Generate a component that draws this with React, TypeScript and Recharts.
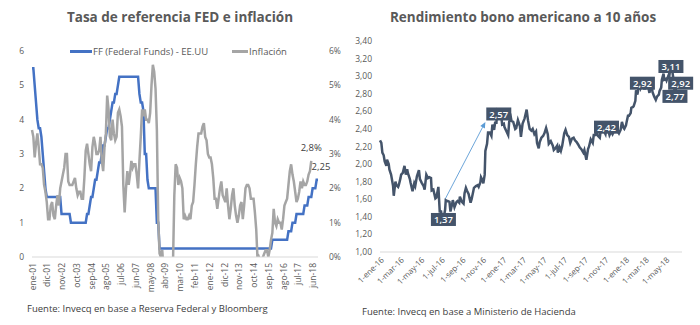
import { LineChart, Line, XAxis, YAxis, ReferenceLine, LabelList } from 'recharts'

const FONT = '"Open Sans", sans-serif'
const TEXT = '#595959'

// Tasa FF (límite superior, fin de mes), ene-01 .. oct-18
const fedFunds = [
  5.5, 5.5, 5, 4.5, 4, 3.75, 3.75, 3.5, 3, 2.5, 2, 1.75,
  1.75, 1.75, 1.75, 1.75, 1.75, 1.75, 1.75, 1.75, 1.75, 1.75, 1.25, 1.25,
  1.25, 1.25, 1.25, 1.25, 1.25, 1, 1, 1, 1, 1, 1, 1,
  1, 1, 1, 1, 1, 1.25, 1.25, 1.5, 1.75, 1.75, 2, 2.25,
  2.25, 2.5, 2.75, 2.75, 3, 3.25, 3.25, 3.5, 3.75, 3.75, 4, 4.25,
  4.5, 4.5, 4.75, 4.75, 5, 5.25, 5.25, 5.25, 5.25, 5.25, 5.25, 5.25,
  5.25, 5.25, 5.25, 5.25, 5.25, 5.25, 5.25, 5.25, 4.75, 4.5, 4.5, 4.25,
  3, 3, 2.25, 2, 2, 2, 2, 2, 2, 1, 1, 0.25,
  0.25, 0.25, 0.25, 0.25, 0.25, 0.25, 0.25, 0.25, 0.25, 0.25, 0.25, 0.25,
  0.25, 0.25, 0.25, 0.25, 0.25, 0.25, 0.25, 0.25, 0.25, 0.25, 0.25, 0.25,
  0.25, 0.25, 0.25, 0.25, 0.25, 0.25, 0.25, 0.25, 0.25, 0.25, 0.25, 0.25,
  0.25, 0.25, 0.25, 0.25, 0.25, 0.25, 0.25, 0.25, 0.25, 0.25, 0.25, 0.25,
  0.25, 0.25, 0.25, 0.25, 0.25, 0.25, 0.25, 0.25, 0.25, 0.25, 0.25, 0.25,
  0.25, 0.25, 0.25, 0.25, 0.25, 0.25, 0.25, 0.25, 0.25, 0.25, 0.25, 0.25,
  0.25, 0.25, 0.25, 0.25, 0.25, 0.25, 0.25, 0.25, 0.25, 0.25, 0.25, 0.5,
  0.5, 0.5, 0.5, 0.5, 0.5, 0.5, 0.5, 0.5, 0.5, 0.5, 0.5, 0.75,
  0.75, 0.75, 1, 1, 1, 1.25, 1.25, 1.25, 1.25, 1.25, 1.25, 1.5,
  1.5, 1.5, 1.75, 1.75, 1.75, 2, 2, 2, 2.25, 2.25,
]

// Inflación interanual EE.UU. (%), ene-01 .. may-18
const inflation = [
  3.7, 3.5, 2.9, 3.3, 3.6, 3.2, 2.7, 2.7, 2.6, 2.1, 1.9, 1.6,
  1.1, 1.1, 1.5, 1.6, 1.2, 1.1, 1.5, 1.8, 1.5, 2.0, 2.2, 2.4,
  2.6, 3.0, 3.0, 2.2, 2.1, 2.1, 2.1, 2.2, 2.3, 2.0, 1.8, 1.9,
  1.9, 1.7, 1.7, 2.3, 3.1, 3.3, 3.0, 2.7, 2.5, 3.2, 3.5, 3.3,
  3.0, 3.0, 3.1, 3.5, 2.8, 2.5, 3.2, 3.6, 4.7, 4.3, 3.5, 3.4,
  4.0, 3.6, 3.4, 3.5, 4.2, 4.3, 4.1, 3.8, 2.1, 1.3, 2.0, 2.5,
  2.1, 2.4, 2.8, 2.6, 2.7, 2.7, 2.4, 2.0, 2.8, 3.5, 4.3, 4.1,
  4.3, 4.0, 4.0, 3.9, 4.2, 5.0, 5.6, 5.4, 4.9, 3.7, 1.1, 0.1,
  0.0, 0.2, -0.4, -0.7, -1.3, -1.4, -2.1, -1.5, -1.3, -0.2, 1.8, 2.7,
  2.6, 2.1, 2.3, 2.2, 2.0, 1.1, 1.2, 1.1, 1.1, 1.2, 1.1, 1.5,
  1.6, 2.1, 2.7, 3.2, 3.6, 3.6, 3.6, 3.8, 3.9, 3.5, 3.4, 3.0,
  2.9, 2.9, 2.7, 2.3, 1.7, 1.7, 1.4, 1.7, 2.0, 2.2, 1.8, 1.7,
  1.6, 2.0, 1.5, 1.1, 1.4, 1.8, 2.0, 1.5, 1.2, 1.0, 1.2, 1.5,
  1.6, 1.1, 1.5, 2.0, 2.1, 2.1, 2.0, 1.7, 1.7, 1.7, 1.3, 0.8,
  -0.1, 0.0, -0.1, -0.2, 0.0, 0.1, 0.2, 0.2, 0.0, 0.2, 0.5, 0.7,
  1.4, 1.0, 0.9, 1.1, 1.0, 1.0, 0.8, 1.1, 1.5, 1.6, 1.7, 2.1,
  2.5, 2.7, 2.4, 2.2, 1.9, 1.6, 1.7, 1.9, 2.2, 2.0, 2.2, 2.1,
  2.1, 2.2, 2.4, 2.5, 2.8,
]

const fedTickMonths = [0, 11, 22, 33, 44, 55, 66, 77, 88, 99, 110, 121, 132, 143, 154, 165, 176, 187, 198, 209]
const fedTickLabels = ['ene-01', 'dic-01', 'nov-02', 'oct-03', 'sep-04', 'ago-05', 'jul-06', 'jun-07', 'may-08', 'abr-09',
  'mar-10', 'feb-11', 'ene-12', 'dic-12', 'nov-13', 'oct-14', 'sep-15', 'ago-16', 'jul-17', 'jun-18']
const fedYTicks = [0, 1, 2, 3, 4, 5, 6]

// Rendimiento bono del Tesoro a 10 años (%)
const bondYield: [string, number][] = [
  ['2016-01-01', 2.27], ['2016-01-05', 2.24], ['2016-01-08', 2.13], ['2016-01-12', 2.10], ['2016-01-15', 2.03],
  ['2016-01-20', 1.98], ['2016-01-22', 2.05], ['2016-01-27', 2.00], ['2016-01-29', 1.94], ['2016-02-03', 1.88],
  ['2016-02-05', 1.84], ['2016-02-09', 1.75], ['2016-02-11', 1.64], ['2016-02-16', 1.80], ['2016-02-19', 1.76],
  ['2016-02-24', 1.74], ['2016-02-26', 1.76], ['2016-03-02', 1.84], ['2016-03-04', 1.88], ['2016-03-09', 1.90],
  ['2016-03-14', 1.98], ['2016-03-18', 1.88], ['2016-03-22', 1.94], ['2016-03-24', 1.90], ['2016-03-30', 1.83],
  ['2016-04-01', 1.79], ['2016-04-07', 1.69], ['2016-04-12', 1.78], ['2016-04-15', 1.75], ['2016-04-20', 1.86],
  ['2016-04-26', 1.93], ['2016-04-29', 1.83], ['2016-05-04', 1.79], ['2016-05-10', 1.75], ['2016-05-13', 1.71],
  ['2016-05-18', 1.88], ['2016-05-23', 1.84], ['2016-05-27', 1.85], ['2016-06-01', 1.84], ['2016-06-03', 1.70],
  ['2016-06-08', 1.71], ['2016-06-14', 1.61], ['2016-06-17', 1.62], ['2016-06-23', 1.74], ['2016-06-27', 1.46],
  ['2016-07-01', 1.46], ['2016-07-05', 1.37], ['2016-07-08', 1.37], ['2016-07-13', 1.48], ['2016-07-15', 1.59],
  ['2016-07-20', 1.58], ['2016-07-26', 1.57], ['2016-07-29', 1.46], ['2016-08-03', 1.55], ['2016-08-05', 1.59],
  ['2016-08-10', 1.51], ['2016-08-16', 1.57], ['2016-08-19', 1.58], ['2016-08-24', 1.56], ['2016-08-26', 1.63],
  ['2016-09-01', 1.57], ['2016-09-06', 1.55], ['2016-09-09', 1.67], ['2016-09-13', 1.73], ['2016-09-16', 1.70],
  ['2016-09-21', 1.66], ['2016-09-27', 1.56], ['2016-09-30', 1.60], ['2016-10-05', 1.69], ['2016-10-07', 1.73],
  ['2016-10-13', 1.75], ['2016-10-18', 1.76], ['2016-10-21', 1.74], ['2016-10-26', 1.79], ['2016-10-28', 1.85],
  ['2016-11-02', 1.81], ['2016-11-04', 1.78], ['2016-11-08', 1.88], ['2016-11-10', 2.15], ['2016-11-15', 2.23],
  ['2016-11-18', 2.36], ['2016-11-23', 2.36], ['2016-11-28', 2.32], ['2016-12-01', 2.45], ['2016-12-06', 2.39],
  ['2016-12-09', 2.47], ['2016-12-13', 2.47], ['2016-12-15', 2.60], ['2016-12-20', 2.57], ['2016-12-23', 2.55],
  ['2016-12-27', 2.56], ['2016-12-30', 2.45],
  ['2017-01-04', 2.46], ['2017-01-06', 2.42], ['2017-01-11', 2.38], ['2017-01-17', 2.33], ['2017-01-20', 2.48],
  ['2017-01-25', 2.53], ['2017-01-27', 2.49], ['2017-02-01', 2.48], ['2017-02-07', 2.40], ['2017-02-10', 2.41],
  ['2017-02-15', 2.50], ['2017-02-21', 2.43], ['2017-02-24', 2.31], ['2017-03-01', 2.46], ['2017-03-07', 2.52],
  ['2017-03-13', 2.62], ['2017-03-17', 2.50], ['2017-03-22', 2.40], ['2017-03-27', 2.38], ['2017-03-31', 2.40],
  ['2017-04-05', 2.34], ['2017-04-10', 2.37], ['2017-04-13', 2.24], ['2017-04-18', 2.18], ['2017-04-21', 2.25],
  ['2017-04-26', 2.30], ['2017-05-01', 2.32], ['2017-05-05', 2.35], ['2017-05-10', 2.41], ['2017-05-15', 2.34],
  ['2017-05-18', 2.23], ['2017-05-24', 2.26], ['2017-05-30', 2.21], ['2017-06-02', 2.16], ['2017-06-07', 2.18],
  ['2017-06-12', 2.21], ['2017-06-14', 2.13], ['2017-06-19', 2.19], ['2017-06-23', 2.15], ['2017-06-27', 2.21],
  ['2017-07-03', 2.35], ['2017-07-07', 2.39], ['2017-07-12', 2.33], ['2017-07-17', 2.31], ['2017-07-21', 2.24],
  ['2017-07-26', 2.29], ['2017-07-31', 2.30], ['2017-08-04', 2.27], ['2017-08-09', 2.25], ['2017-08-14', 2.22],
  ['2017-08-18', 2.19], ['2017-08-23', 2.17], ['2017-08-29', 2.13], ['2017-09-01', 2.16], ['2017-09-07', 2.05],
  ['2017-09-12', 2.17], ['2017-09-15', 2.20], ['2017-09-20', 2.28], ['2017-09-26', 2.24], ['2017-09-29', 2.33],
  ['2017-10-04', 2.33], ['2017-10-06', 2.37], ['2017-10-12', 2.32], ['2017-10-17', 2.30], ['2017-10-20', 2.39],
  ['2017-10-25', 2.44], ['2017-10-30', 2.37], ['2017-11-03', 2.34], ['2017-11-06', 2.42], ['2017-11-10', 2.40],
  ['2017-11-15', 2.33], ['2017-11-20', 2.37], ['2017-11-24', 2.34], ['2017-11-29', 2.38], ['2017-12-04', 2.37],
  ['2017-12-08', 2.38], ['2017-12-13', 2.35], ['2017-12-18', 2.39], ['2017-12-22', 2.48], ['2017-12-27', 2.41],
  ['2017-12-29', 2.40],
  ['2018-01-03', 2.44], ['2018-01-05', 2.48], ['2018-01-09', 2.55], ['2018-01-12', 2.55], ['2018-01-17', 2.58],
  ['2018-01-19', 2.64], ['2018-01-24', 2.65], ['2018-01-26', 2.66], ['2018-01-31', 2.72], ['2018-02-02', 2.84],
  ['2018-02-06', 2.79], ['2018-02-09', 2.85], ['2018-02-14', 2.91], ['2018-02-16', 2.87], ['2018-02-21', 2.92],
  ['2018-02-26', 2.86], ['2018-03-02', 2.86], ['2018-03-07', 2.89], ['2018-03-09', 2.90], ['2018-03-14', 2.81],
  ['2018-03-16', 2.85], ['2018-03-21', 2.89], ['2018-03-23', 2.82], ['2018-03-28', 2.77], ['2018-04-02', 2.73],
  ['2018-04-06', 2.77], ['2018-04-11', 2.79], ['2018-04-13', 2.83], ['2018-04-18', 2.87], ['2018-04-20', 2.96],
  ['2018-04-25', 3.03], ['2018-04-27', 2.96], ['2018-05-02', 2.97], ['2018-05-04', 2.95], ['2018-05-09', 3.00],
  ['2018-05-11', 2.97], ['2018-05-15', 3.08], ['2018-05-17', 3.11], ['2018-05-21', 3.06], ['2018-05-24', 2.98],
  ['2018-05-29', 2.77], ['2018-05-31', 2.83], ['2018-06-04', 2.94], ['2018-06-07', 2.93], ['2018-06-12', 2.96],
  ['2018-06-15', 2.92],
]
const bondLabelDates = ['2016-07-08', '2016-12-20', '2017-11-06', '2018-02-21', '2018-05-17', '2018-05-29', '2018-06-15']
const bondArrow: [string, number][] = [['2016-07-13', 1.60], ['2016-11-10', 2.48]]

const bondTickLabels = ['1-ene-16', '1-mar-16', '1-may-16', '1-jul-16', '1-sep-16', '1-nov-16', '1-ene-17', '1-mar-17',
  '1-may-17', '1-jul-17', '1-sep-17', '1-nov-17', '1-ene-18', '1-mar-18', '1-may-18']
const bondTickDates = ['2016-01-01', '2016-03-01', '2016-05-01', '2016-07-01', '2016-09-01', '2016-11-01', '2017-01-01',
  '2017-03-01', '2017-05-01', '2017-07-01', '2017-09-01', '2017-11-01', '2018-01-01', '2018-03-01', '2018-05-01']
const bondYTicks = [1, 1.2, 1.4, 1.6, 1.8, 2, 2.2, 2.4, 2.6, 2.8, 3, 3.2, 3.4]

const dayOf = (iso: string) => {
  const [y, m, d] = iso.split('-').map(Number)
  return Math.round((Date.UTC(y, m - 1, d) - Date.UTC(2016, 0, 1)) / 86400000)
}

const fedData = fedFunds.map((ff, m) => ({ m, ff, cpi: inflation[m] }))
const bondData = bondYield.map(([date, v]) => ({ day: dayOf(date), v, label: bondLabelDates.includes(date) }))
const bondTickDays = bondTickDates.map(dayOf)

const comma = (v: number, d: number) => v.toFixed(d).replace('.', ',')

const FedTick = ({ x, y, payload }: any) => (
  <text x={x} y={y - 2} transform={`rotate(-90 ${x} ${y - 2})`} textAnchor="end" dominantBaseline="central"
    fontSize={8.5} fill={TEXT} fontFamily={FONT}>
    {fedTickLabels[fedTickMonths.indexOf(payload.value)]}
  </text>
)

const BondTick = ({ x, y, payload }: any) => (
  <text x={x + 2} y={y - 2} transform={`rotate(-45 ${x + 2} ${y - 2})`} textAnchor="end" dominantBaseline="central"
    fontSize={8} fill={TEXT} fontFamily={FONT}>
    {bondTickLabels[bondTickDays.indexOf(payload.value)]}
  </text>
)

const BondBox = (props: any) => {
  const { x, y, value, index } = props
  if (!bondData[index]?.label) return null
  return (
    <g>
      <rect x={x - 12.5} y={y - 6.5} width={25} height={13} fill="#44546A" />
      <text x={x} y={y + 0.5} textAnchor="middle" dominantBaseline="central" fontSize={9.5} fontWeight={600}
        fill="#fff" fontFamily={FONT}>{comma(value, 2)}</text>
    </g>
  )
}

const Arrow = (p: any) => {
  const { x1, y1, x2, y2 } = p
  const a = Math.atan2(y2 - y1, x2 - x1)
  const L = 6, W = 2.6
  const bx = x2 - L * Math.cos(a), by = y2 - L * Math.sin(a)
  const pts = `${x2},${y2} ${bx - W * Math.sin(a)},${by + W * Math.cos(a)} ${bx + W * Math.sin(a)},${by - W * Math.cos(a)}`
  return (
    <g>
      <line x1={x1} y1={y1} x2={bx} y2={by} stroke="#5B9BD5" strokeWidth={0.9} />
      <polygon points={pts} fill="#5B9BD5" />
    </g>
  )
}

const tickStyle = { fontSize: 8.5, fill: TEXT, fontFamily: FONT }

export default function App() {
  return (
    <div style={{ position: 'absolute', left: 0, top: 0, width: 700, height: 325, background: '#fff', fontFamily: FONT, color: TEXT }}>
      {/* Izquierda */}
      <div style={{ position: 'absolute', left: 0, top: 8, width: 360, textAlign: 'center', fontSize: 13.5, fontWeight: 700 }}>
        Tasa de referencia FED e inflación
      </div>
      <div style={{ position: 'absolute', left: 0, top: 0 }}>
        <LineChart width={350} height={325} data={fedData} margin={{ top: 51, right: 0, bottom: 28, left: 0 }}>
          <XAxis type="number" dataKey="m" domain={[0, 213]} ticks={fedTickMonths} interval={0} height={40}
            tick={<FedTick />} tickLine={false} axisLine={{ stroke: '#D9D9D9' }} />
          <YAxis yAxisId="ff" domain={[0, 6]} ticks={fedYTicks} width={32} axisLine={false} tickLine={false} tick={tickStyle} />
          <YAxis yAxisId="cpi" orientation="right" domain={[0, 6]} ticks={fedYTicks} allowDataOverflow width={32}
            axisLine={false} tickLine={false} tick={tickStyle} tickMargin={5} tickFormatter={(v) => `${v}%`} />
          <Line yAxisId="ff" dataKey="ff" stroke="#4472C4" strokeWidth={2.5} dot={false} isAnimationActive={false}>
            <LabelList dataKey="ff" content={(p: any) => p.index === fedFunds.length - 1 ? (
              <text x={p.x + 3} y={p.y - 13} textAnchor="middle" dominantBaseline="central" fontSize={9.5} fill="#404040">
                {comma(p.value, 2)}
              </text>) : null} />
          </Line>
          <Line yAxisId="cpi" dataKey="cpi" stroke="#A5A5A5" strokeWidth={2.5} dot={false} isAnimationActive={false}>
            <LabelList dataKey="cpi" content={(p: any) => p.index === inflation.length - 1 ? (
              <text x={p.x} y={p.y - 13} textAnchor="middle" dominantBaseline="central" fontSize={9.5} fill="#404040">
                {comma(p.value, 1)}%
              </text>) : null} />
          </Line>
        </LineChart>
      </div>
      <div style={{ position: 'absolute', left: 70, top: 45, display: 'flex', alignItems: 'center', fontSize: 9.5, whiteSpace: 'nowrap' }}>
        <span style={{ display: 'inline-block', width: 22, height: 3, background: '#4472C4' }} />
        <span style={{ marginLeft: 1 }}>FF (Federal Funds) - EE.UU</span>
        <span style={{ display: 'inline-block', width: 16, height: 3, background: '#A5A5A5', marginLeft: 24 }} />
        <span style={{ marginLeft: 1 }}>Inflación</span>
      </div>
      <div style={{ position: 'absolute', left: 27, top: 302, fontSize: 9.5, color: '#404040', whiteSpace: 'nowrap' }}>
        Fuente: Invecq en base a Reserva Federal y Bloomberg
      </div>

      {/* Derecha */}
      <div style={{ position: 'absolute', left: 343, top: 8, width: 360, textAlign: 'center', fontSize: 13.5, fontWeight: 700 }}>
        Rendimiento bono americano a 10 años
      </div>
      <div style={{ position: 'absolute', left: 350, top: 0 }}>
        <LineChart width={350} height={325} data={bondData} margin={{ top: 41, right: 18, bottom: 33, left: 0 }}>
          <XAxis type="number" dataKey="day" domain={[0, 900]} ticks={bondTickDays} interval={0} height={40}
            tick={<BondTick />} tickLine={false} axisLine={{ stroke: '#D9D9D9' }} />
          <YAxis domain={[1, 3.4]} ticks={bondYTicks} width={30} axisLine={false} tickLine={false} tick={tickStyle}
            tickFormatter={(v) => comma(v, 2)} />
          <ReferenceLine segment={[{ x: dayOf(bondArrow[0][0]), y: bondArrow[0][1] }, { x: dayOf(bondArrow[1][0]), y: bondArrow[1][1] }]}
            shape={<Arrow />} />
          <Line dataKey="v" stroke="#44546A" strokeWidth={2.5} dot={false} isAnimationActive={false}>
            <LabelList dataKey="v" content={<BondBox />} />
          </Line>
        </LineChart>
      </div>
      <div style={{ position: 'absolute', left: 362, top: 305, fontSize: 9.5, color: '#404040', whiteSpace: 'nowrap' }}>
        Fuente: Invecq en base a Ministerio de Hacienda
      </div>
    </div>
  )
}
